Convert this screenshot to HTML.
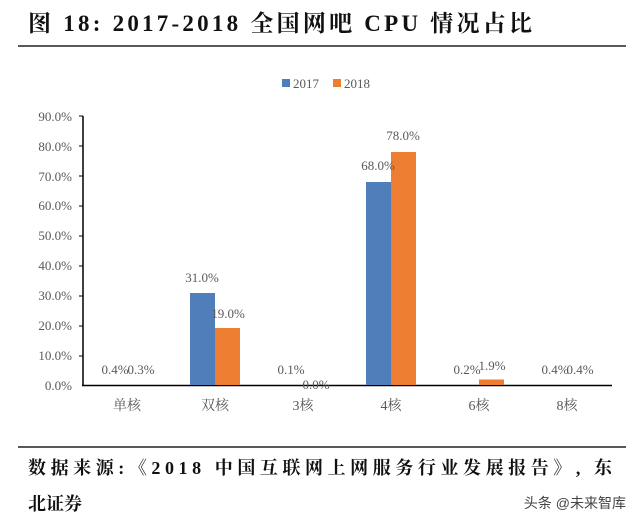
<!DOCTYPE html>
<html><head><meta charset="utf-8"><style>
body{margin:0;background:#fff;width:640px;height:526px;overflow:hidden}
</style></head><body>
<svg width="640" height="526" xmlns="http://www.w3.org/2000/svg" font-family="'Liberation Serif','Noto Serif CJK SC',serif">
<text x="28" y="31" font-size="23" font-weight="bold" fill="#111" textLength="504" lengthAdjust="spacing">图 18: 2017-2018 全国网吧 CPU 情况占比</text>
<line x1="18" y1="46" x2="626" y2="46" stroke="#222" stroke-width="1.5"/>
<rect x="282" y="79" width="8" height="8" fill="#4F7EBB"/>
<text x="293" y="88" font-size="13" fill="#595959">2017</text>
<rect x="333" y="79" width="8" height="8" fill="#ED7D31"/>
<text x="344" y="88" font-size="13" fill="#595959">2018</text>
<g font-size="13" fill="#595959" text-anchor="end">
<text x="72" y="121">90.0%</text><text x="72" y="151">80.0%</text><text x="72" y="181">70.0%</text>
<text x="72" y="210">60.0%</text><text x="72" y="240">50.0%</text><text x="72" y="270">40.0%</text>
<text x="72" y="300">30.0%</text><text x="72" y="330">20.0%</text><text x="72" y="360">10.0%</text>
<text x="72" y="390">0.0%</text>
</g>
<g stroke="#000" stroke-width="1.5">
<line x1="83" y1="116" x2="83" y2="386"/>
<line x1="82" y1="385.5" x2="612" y2="385.5"/>
</g>
<g stroke="#000" stroke-width="1">
<line x1="79" y1="116" x2="83" y2="116"/><line x1="79" y1="146" x2="83" y2="146"/><line x1="79" y1="176" x2="83" y2="176"/>
<line x1="79" y1="206" x2="83" y2="206"/><line x1="79" y1="236" x2="83" y2="236"/><line x1="79" y1="266" x2="83" y2="266"/>
<line x1="79" y1="296" x2="83" y2="296"/><line x1="79" y1="326" x2="83" y2="326"/><line x1="79" y1="356" x2="83" y2="356"/>
</g>
<rect x="190" y="293" width="25" height="92" fill="#4F7EBB"/>
<rect x="215" y="328" width="25" height="57" fill="#ED7D31"/>
<rect x="366" y="182" width="25" height="203" fill="#4F7EBB"/>
<rect x="391" y="152" width="25" height="233" fill="#ED7D31"/>
<rect x="479" y="379.5" width="25" height="5.5" fill="#ED7D31"/>
<g font-size="13" fill="#595959" text-anchor="middle">
<text x="115" y="374">0.4%</text><text x="141" y="374">0.3%</text>
<text x="202" y="282">31.0%</text><text x="228" y="318">19.0%</text>
<text x="291" y="374">0.1%</text><text x="316" y="389">0.0%</text>
<text x="378" y="170">68.0%</text><text x="403" y="140">78.0%</text>
<text x="467" y="374">0.2%</text><text x="492" y="370">1.9%</text>
<text x="555" y="374">0.4%</text><text x="580" y="374">0.4%</text>
</g>
<g font-size="14" fill="#595959" text-anchor="middle">
<text x="127" y="410">单核</text><text x="215" y="410">双核</text><text x="303" y="410">3核</text>
<text x="391" y="410">4核</text><text x="479" y="410">6核</text><text x="567" y="410">8核</text>
</g>
<line x1="18" y1="447" x2="626" y2="447" stroke="#222" stroke-width="1.5"/>
<text x="28" y="474" font-size="18" font-weight="bold" fill="#111" textLength="584" lengthAdjust="spacing">数据来源:《2018 中国互联网上网服务行业发展报告》, 东</text>
<text x="28" y="510" font-size="18" font-weight="bold" fill="#111">北证券</text>
<text x="626" y="508" font-size="14" fill="#444" text-anchor="end" font-family="'Liberation Sans','Noto Sans CJK SC',sans-serif">头条 @未来智库</text>
</svg>
</body></html>
